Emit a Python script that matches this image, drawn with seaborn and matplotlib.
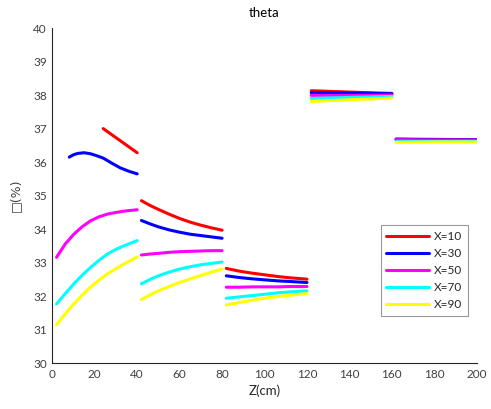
import matplotlib
matplotlib.use("Agg")
import matplotlib.pyplot as plt
from matplotlib.lines import Line2D
import seaborn as sns
import pandas as pd

# ---- data ----
series_labels = ["X=10", "X=30", "X=50", "X=70", "X=90"]
series_colors = ["#ff0000", "#0000ff", "#ff00ff", "#00ffff", "#ffff00"]

# segment 1 (z up to 40)
z1_red = [24, 28, 32, 36, 40]
v1_red = [37.00, 36.82, 36.64, 36.46, 36.28]
z1_blue = [8, 10, 12, 15, 18, 21, 24, 28, 32, 36, 40]
v1_blue = [36.15, 36.22, 36.26, 36.28, 36.25, 36.19, 36.12, 35.97, 35.83, 35.73, 35.65]
z1_low = [2, 6, 10, 14, 18, 22, 26, 30, 34, 40]
v1_mag = [33.16, 33.55, 33.84, 34.07, 34.25, 34.37, 34.45, 34.50, 34.54, 34.58]
v1_cyan = [31.77, 32.07, 32.36, 32.62, 32.86, 33.07, 33.26, 33.40, 33.51, 33.66]
v1_yel = [31.15, 31.47, 31.76, 32.03, 32.27, 32.48, 32.67, 32.82, 32.97, 33.17]

# segment 2 (42-80)
z2 = [42, 46, 50, 55, 60, 65, 70, 75, 80]
v2_red = [34.85, 34.71, 34.59, 34.45, 34.32, 34.21, 34.12, 34.04, 33.97]
v2_blue = [34.26, 34.16, 34.07, 33.98, 33.91, 33.85, 33.81, 33.77, 33.73]
v2_mag = [33.23, 33.26, 33.28, 33.31, 33.33, 33.34, 33.35, 33.36, 33.36]
v2_cyan = [32.37, 32.50, 32.61, 32.72, 32.81, 32.88, 32.94, 32.98, 33.02]
v2_yel = [31.90, 32.04, 32.16, 32.29, 32.41, 32.52, 32.62, 32.72, 32.81]

# segment 3 (82-120)
z3 = [82, 88, 94, 100, 106, 112, 120]
v3_red = [32.83, 32.75, 32.69, 32.64, 32.59, 32.55, 32.51]
v3_blue = [32.61, 32.56, 32.52, 32.49, 32.46, 32.44, 32.41]
v3_mag = [32.27, 32.27, 32.28, 32.28, 32.28, 32.29, 32.29]
v3_cyan = [31.94, 31.98, 32.02, 32.06, 32.10, 32.13, 32.16]
v3_yel = [31.74, 31.81, 31.88, 31.94, 31.99, 32.03, 32.08]

# segment 4 (122-160)
z4 = [122, 140, 160]
v4_red = [38.13, 38.09, 38.05]
v4_blue = [38.07, 38.06, 38.04]
v4_mag = [37.99, 37.99, 38.00]
v4_cyan = [37.90, 37.93, 37.96]
v4_yel = [37.81, 37.86, 37.91]

# segment 5 (162-200)
z5 = [162, 180, 200]
v5_red = [36.69, 36.68, 36.67]
v5_blue = [36.68, 36.67, 36.67]
v5_mag = [36.67, 36.66, 36.66]
v5_cyan = [36.63, 36.63, 36.63]
v5_yel = [36.59, 36.60, 36.60]

x_ticks = [0, 20, 40, 60, 80, 100, 120, 140, 160, 180, 200]
y_ticks = [30, 31, 32, 33, 34, 35, 36, 37, 38, 39, 40]

# ---- build long table ----
segments = {
    "X=10": [(z1_red, v1_red), (z2, v2_red), (z3, v3_red), (z4, v4_red), (z5, v5_red)],
    "X=30": [(z1_blue, v1_blue), (z2, v2_blue), (z3, v3_blue), (z4, v4_blue), (z5, v5_blue)],
    "X=50": [(z1_low, v1_mag), (z2, v2_mag), (z3, v3_mag), (z4, v4_mag), (z5, v5_mag)],
    "X=70": [(z1_low, v1_cyan), (z2, v2_cyan), (z3, v3_cyan), (z4, v4_cyan), (z5, v5_cyan)],
    "X=90": [(z1_low, v1_yel), (z2, v2_yel), (z3, v3_yel), (z4, v4_yel), (z5, v5_yel)],
}
rows = []
for lab, segs in segments.items():
    for si, (zz, vv) in enumerate(segs):
        for z, v in zip(zz, vv):
            rows.append({"X": lab, "seg": si, "z": z, "v": v})
df = pd.DataFrame(rows)

sns.set_style("white")
plt.rcParams["font.family"] = ["Lato", "DejaVu Sans"]

fig = plt.figure(figsize=(4.91, 4.09), dpi=100)
ax = fig.add_axes([0.1065, 0.1117, 0.8645, 0.8198])

palette = dict(zip(series_labels, series_colors))
sns.lineplot(data=df, x="z", y="v", hue="X", units="seg", estimator=None,
             sort=False, palette=palette, hue_order=series_labels,
             linewidth=2.2, legend=False, ax=ax)

ax.set_xlim(0, 200)
ax.set_ylim(30, 40)
ax.set_xticks(x_ticks)
ax.set_yticks(y_ticks)
ax.tick_params(direction="in", length=4, width=0.8, labelsize=8.5,
               colors="#262626", labelcolor="#404040", pad=4)
for s in ["top", "right"]:
    ax.spines[s].set_visible(False)
for s in ["left", "bottom"]:
    ax.spines[s].set_color("#262626")
    ax.spines[s].set_linewidth(0.8)

ax.set_xlabel("Z(cm)", fontsize=9.5, color="#262626", labelpad=3)
ax.set_ylabel("\u25a1(%)", fontsize=9, color="#404040", labelpad=8,
              family=["DejaVu Sans"])
ax.set_title("theta", fontsize=9.5, color="#000000", pad=8)

handles = [Line2D([0], [0], color=c, lw=2.2) for c in series_colors]
leg = ax.legend(handles, series_labels, loc="upper right",
                bbox_to_anchor=(0.979, 0.412), borderaxespad=0.0,
                fontsize=8.5, frameon=True,
                fancybox=False, edgecolor="#808080", handlelength=3.6,
                labelspacing=0.5, borderpad=0.5, handletextpad=0.4)
leg.get_frame().set_linewidth(0.8)

fig.savefig("out.png", dpi=100)
